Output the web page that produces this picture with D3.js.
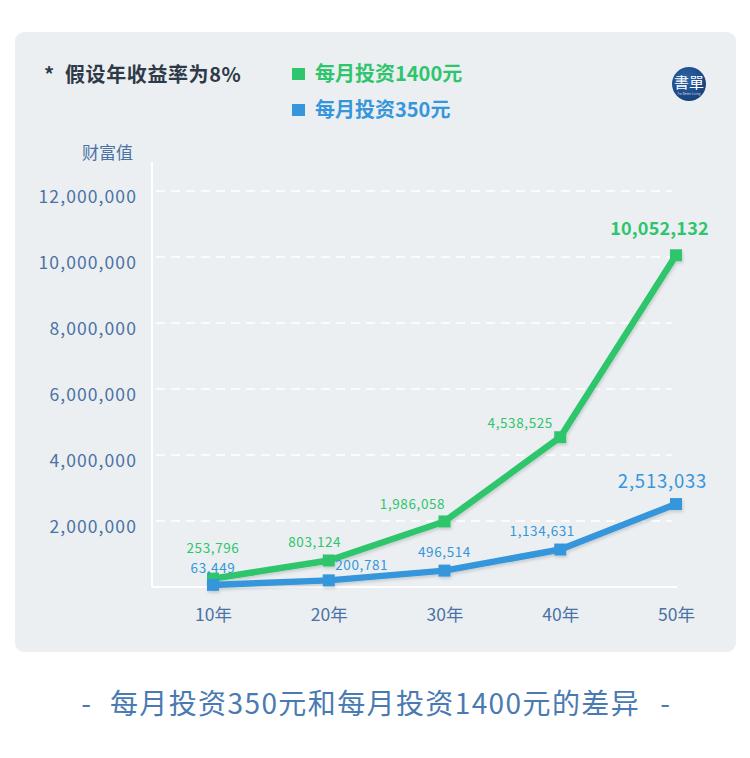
<!DOCTYPE html>
<html><head><meta charset="utf-8">
<script src="https://cdn.jsdelivr.net/npm/d3@7/dist/d3.min.js"></script>
<style>
html,body{margin:0;padding:0;background:#fff;}
svg{display:block;font-family:"Noto Sans CJK SC","Noto Sans",sans-serif;}
</style></head><body>
<svg id="c" width="750" height="758"></svg>
<script>
const categories = ["10年","20年","30年","40年","50年"];
const series1400 = [253796, 803124, 1986058, 4538525, 10052132];
const series350 = [63449, 200781, 496514, 1134631, 2513033];
const yTicks = [2000000, 4000000, 6000000, 8000000, 10000000, 12000000];
const legendNames = ["每月投资1400元","每月投资350元"];

const GREEN = "#2ec56d", BLUE = "#3696db", AXIS = "#4a72a4";
const svg = d3.select("#c");
const defs = svg.append("defs");
const f = defs.append("filter").attr("id","sh").attr("x","-10%").attr("y","-10%").attr("width","130%").attr("height","130%");
f.append("feDropShadow").attr("dx",1).attr("dy",2).attr("stdDeviation",1.5).attr("flood-color","#000").attr("flood-opacity",0.15);
const lg = defs.append("radialGradient").attr("id","logo").attr("cx","40%").attr("cy","35%").attr("r","70%");
lg.append("stop").attr("offset","0%").attr("stop-color","#2e64a8");
lg.append("stop").attr("offset","100%").attr("stop-color","#163f78");

svg.append("rect").attr("x",15).attr("y",32).attr("width",721).attr("height",620).attr("rx",9).attr("fill","#ebeff1");

const x = d3.scalePoint().domain(categories).range([213, 676]);
const y = d3.scaleLinear().domain([0, 12000000]).range([587, 191]);

// grid
svg.append("g").selectAll("line").data(yTicks).join("line")
  .attr("x1",156).attr("x2",672).attr("y1",d=>y(d)).attr("y2",d=>y(d))
  .attr("stroke","#fff").attr("stroke-width",1.5).attr("stroke-dasharray","9,6");

// axes lines
svg.append("line").attr("x1",152).attr("x2",152).attr("y1",162).attr("y2",y(0)).attr("stroke","#fff").attr("stroke-width",2);
svg.append("line").attr("x1",152).attr("x2",677).attr("y1",y(0)).attr("y2",y(0)).attr("stroke","#fff").attr("stroke-width",2);

// y axis labels
const yAxis = d3.axisLeft(y).tickValues(yTicks).tickFormat(d3.format(",")).tickSize(0).tickPadding(0);
const ga = svg.append("g").attr("transform","translate(137,5)").call(yAxis);
ga.select(".domain").remove();
ga.selectAll("text").attr("fill",AXIS).attr("font-size",17.5).attr("letter-spacing",1.1)
  .attr("font-family","'Noto Sans CJK SC',sans-serif").attr("dy","0.35em");

// x axis labels
const xAxis = d3.axisBottom(x).tickSize(0).tickPadding(0);
const gx = svg.append("g").attr("transform","translate(0,606)").call(xAxis);
gx.select(".domain").remove();
gx.selectAll("text").attr("fill",AXIS).attr("font-size",17.5).attr("font-family","'Noto Sans CJK SC',sans-serif").attr("dy","0.85em");

svg.append("text").attr("x",82).attr("y",159).attr("fill",AXIS).attr("font-size",17).text("财富值");

// lines
const line = d3.line().x((d,i)=>x(categories[i])).y(d=>y(d));
function drawSeries(data,color){
  const g = svg.append("g").attr("filter","url(#sh)");
  g.append("path").datum(data).attr("d",line).attr("fill","none").attr("stroke",color).attr("stroke-width",6.5).attr("stroke-linejoin","round");
  g.selectAll("rect").data(data).join("rect")
    .attr("x",(d,i)=>x(categories[i])-6).attr("y",d=>y(d)-6).attr("width",12).attr("height",12).attr("fill",color);
}
drawSeries(series1400, GREEN);
drawSeries(series350, BLUE);

// value labels
const fmt = d3.format(",");
const offG = [[0,-30],[-14,-18],[-32,-17],[-40,-14],[-16.5,-26.5]];
const offB = [[0,-17],[33,-15],[0,-18],[-18,-18],[-13.5,-22.5]];
svg.append("g").selectAll("text").data(series1400).join("text")
  .attr("x",(d,i)=>x(categories[i])+offG[i][0]).attr("y",(d,i)=>y(d)+offG[i][1])
  .attr("text-anchor","middle").attr("fill",GREEN).attr("letter-spacing",(d,i)=>i===4?0.2:0.6)
  .attr("font-size",(d,i)=>i===4?18:13.5).attr("font-weight",(d,i)=>i===4?"bold":"normal")
  .attr("dy","0.35em").text(d=>fmt(d));
svg.append("g").selectAll("text").data(series350).join("text")
  .attr("x",(d,i)=>x(categories[i])+offB[i][0]).attr("y",(d,i)=>y(d)+offB[i][1])
  .attr("text-anchor","middle").attr("fill",BLUE).attr("letter-spacing",(d,i)=>i===4?0.8:0.6)
  .attr("font-size",(d,i)=>i===4?18.5:13.5)
  .attr("dy","0.35em").text(d=>fmt(d));

// legend
svg.append("text").attr("x",44).attr("y",75).attr("dy","0.36em").attr("fill","#2f3a48").attr("font-size",20).attr("font-weight","bold").text("*");
svg.append("text").attr("x",65).attr("y",75).attr("dy","0.36em").attr("fill","#2f3a48").attr("font-size",20).attr("font-weight","bold").attr("letter-spacing",0.6).text("假设年收益率为8%");
const leg = svg.append("g").selectAll("g").data(legendNames).join("g").attr("transform",(d,i)=>`translate(292,${74+i*36})`);
leg.append("rect").attr("x",0).attr("y",-6).attr("width",13).attr("height",12).attr("fill",(d,i)=>i===0?GREEN:BLUE);
leg.append("text").attr("x",23).attr("y",0).attr("dy","0.36em").attr("font-size",20).attr("font-weight","bold").attr("fill",(d,i)=>i===0?GREEN:BLUE).text(d=>d);

// logo
svg.append("circle").attr("cx",689).attr("cy",84).attr("r",17).attr("fill","url(#logo)");
svg.append("text").attr("x",689).attr("y",88).attr("text-anchor","middle").attr("fill","#fff").attr("font-size",15).attr("font-family","'Noto Sans CJK TC',serif").text("書單");
svg.append("text").attr("x",689).attr("y",95).attr("text-anchor","middle").attr("fill","#cfd9e8").attr("font-size",3).text("For Better Living");

// bottom title
const tg = svg.append("g").attr("fill","#4a7ab2").attr("font-size",28);
tg.append("text").attr("x",86).attr("y",704).attr("dy","0.36em").attr("text-anchor","middle").text("-");
tg.append("text").attr("x",375).attr("y",704).attr("dy","0.36em").attr("text-anchor","middle").attr("letter-spacing",1.4)
  .text("每月投资350元和每月投资1400元的差异");
tg.append("text").attr("x",665).attr("y",704).attr("dy","0.36em").attr("text-anchor","middle").text("-");
</script></body></html>
